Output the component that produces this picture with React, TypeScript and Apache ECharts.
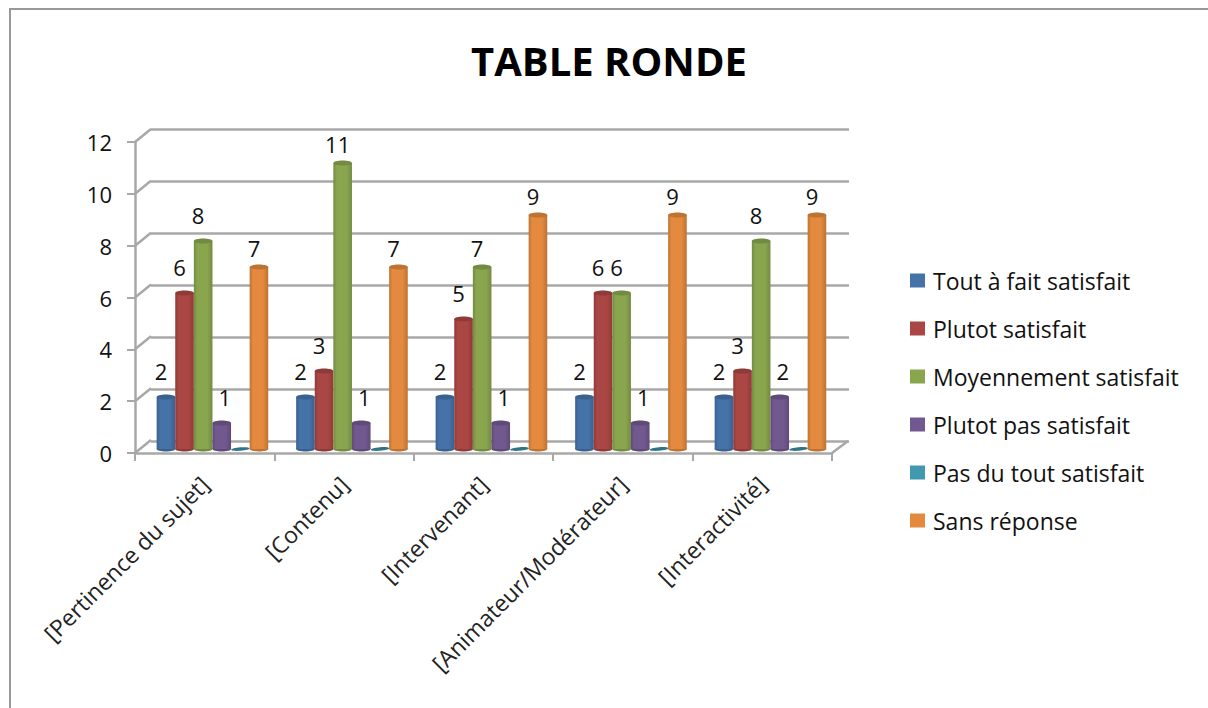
import React, { useEffect, useRef } from "react";
import * as echarts from "echarts";

const titleText = "TABLE RONDE";
const categories = ["[Pertinence du sujet]", "[Contenu]", "[Intervenant]", "[Animateur/Modérateur]", "[Interactivité]"];
const valueTicks = [0, 2, 4, 6, 8, 10, 12];

const toutAFait = [2, 2, 2, 2, 2];
const plutotSatisfait = [6, 3, 5, 6, 3];
const moyennement = [8, 11, 7, 6, 8];
const plutotPas = [1, 1, 1, 1, 2];
const pasDuTout = [0, 0, 0, 0, 0];
const sansReponse = [7, 7, 9, 9, 9];

const seriesNames = ["Tout à fait satisfait", "Plutot satisfait", "Moyennement satisfait", "Plutot pas satisfait", "Pas du tout satisfait", "Sans réponse"];
const seriesValues = [toutAFait, plutotSatisfait, moyennement, plutotPas, pasDuTout, sansReponse];
const seriesColors = ["#4572A7", "#AA4643", "#89A54E", "#71588F", "#4198AF", "#E38A3E"];
const seriesDark = ["#3A6090", "#8E3A38", "#738A42", "#5F4A78", "#2F7487", "#BC7333"];
const labelDx = [-5, -5, -5, 3, 0, -5];

const FONT = "Open Sans";
const AXIS = "#a8a8a8";

function shade(color: string, dark: string) {
  return new echarts.graphic.LinearGradient(0, 0, 1, 0, [
    { offset: 0, color: dark },
    { offset: 0.18, color },
    { offset: 0.72, color },
    { offset: 1, color: dark },
  ]);
}

function cylinder(si: number) {
  return (params: any, api: any) => {
    const idx = api.value(0);
    const v = api.value(1);
    const band = api.size([1, 0])[0];
    const pitch = band / 7.5;
    const base = api.coord([idx, 0]);
    const top = api.coord([idx, v]);
    const cx = base[0] + (si - 2.5) * pitch;
    const rx = pitch / 2;
    const children: any[] = [];
    if (v > 0) {
      children.push(
        { type: "ellipse", shape: { cx, cy: base[1], rx, ry: 2.5 }, style: { fill: seriesDark[si] } },
        { type: "rect", shape: { x: cx - rx, y: top[1], width: pitch, height: base[1] - top[1] }, style: { fill: shade(seriesColors[si], seriesDark[si]) } },
        { type: "ellipse", shape: { cx, cy: top[1], rx, ry: 2.5 }, style: { fill: seriesDark[si] } },
        {
          type: "text",
          style: {
            text: String(v),
            x: cx + labelDx[si],
            y: top[1] + (v >= 7 && v % 2 === 1 ? -19 : -26),
            align: "center",
            verticalAlign: "middle",
            fill: "#111",
            fontSize: 22,
            fontFamily: FONT,
          },
        }
      );
    } else {
      children.push({
        type: "ellipse",
        shape: { cx, cy: base[1], rx, ry: 1.8 },
        originX: cx,
        originY: base[1],
        rotation: 0.08,
        style: { fill: seriesDark[si] },
      });
    }
    return { type: "group", children };
  };
}

function depthLines(params: any, api: any) {
  const v = api.value(1);
  const p = api.coord([0, v]);
  const left = params.coordSys.x;
  const right = left + params.coordSys.width;
  const style = { stroke: AXIS, lineWidth: 2.5, fill: "none" };
  const children: any[] = [{ type: "line", shape: { x1: left, y1: p[1], x2: left + 16, y2: p[1] - 13 }, style }];
  if (v === 0) children.push({ type: "line", shape: { x1: right, y1: p[1], x2: right + 16, y2: p[1] - 12 }, style });
  return { type: "group", children };
}

export default function App() {
  const ref = useRef<HTMLDivElement>(null);
  useEffect(() => {
    const chart = echarts.init(ref.current!, undefined, { renderer: "svg" });
    const bandGrid = { left: 142.7, width: 697.5, top: 137, height: 312 };
    const frontGrid = { left: 135, width: 697, top: 142, height: 311 };
    const backGrid = { left: 151, width: 698, top: 129, height: 312 };
    chart.setOption({
      animation: false,
      backgroundColor: "#fff",
      title: {
        text: titleText,
        left: 604,
        top: 35,
        textAlign: "center",
        textStyle: { fontFamily: FONT, fontSize: 40, fontWeight: "bold", color: "#000" },
      },
      legend: {
        orient: "vertical",
        left: 905,
        top: 264,
        data: seriesNames,
        icon: "rect",
        itemWidth: 15,
        itemHeight: 14,
        itemGap: 25,
        textStyle: { fontFamily: FONT, fontSize: 23, color: "#111", padding: [0, 0, 0, 3] },
      },
      grid: [bandGrid, frontGrid, backGrid],
      xAxis: [
        { type: "category", gridIndex: 0, data: categories, show: false },
        {
          type: "category",
          gridIndex: 1,
          data: categories,
          axisLine: { show: true, lineStyle: { color: AXIS, width: 2.5 } },
          axisTick: { show: true, length: 8, alignWithLabel: false, lineStyle: { color: AXIS, width: 2 } },
          axisLabel: { rotate: 45, margin: 27, interval: 0, fontFamily: FONT, fontSize: 23, color: "#222" },
        },
        { type: "category", gridIndex: 2, data: categories, show: false },
      ],
      yAxis: [
        { type: "value", gridIndex: 0, min: 0, max: 12, interval: 2, show: false, splitLine: { show: false } },
        {
          type: "value",
          gridIndex: 1,
          min: 0,
          max: 12,
          interval: 2,
          axisLine: { show: true, lineStyle: { color: AXIS, width: 2.5 } },
          axisTick: { show: true, length: 8, lineStyle: { color: AXIS, width: 2 } },
          axisLabel: { margin: 23, fontFamily: FONT, fontSize: 22, color: "#111" },
          splitLine: { show: false },
        },
        {
          type: "value",
          gridIndex: 2,
          min: 0,
          max: 12,
          interval: 2,
          axisLine: { show: false },
          axisTick: { show: false },
          axisLabel: { show: false },
          splitLine: { show: true, lineStyle: { color: AXIS, width: 2.5 } },
        },
      ],
      series: [
        {
          type: "custom",
          name: "depth",
          xAxisIndex: 1,
          yAxisIndex: 1,
          clip: false,
          silent: true,
          data: valueTicks.map((t) => [categories[0], t]),
          encode: { x: 0, y: 1 },
          renderItem: depthLines,
        },
        ...seriesNames.map((name, si) => ({
          type: "custom",
          name,
          xAxisIndex: 0,
          yAxisIndex: 0,
          clip: false,
          itemStyle: { color: seriesColors[si] },
          data: seriesValues[si].map((v, i) => [categories[i], v]),
          encode: { x: 0, y: 1 },
          renderItem: cylinder(si),
        })),
      ],
      graphic: [
        { type: "line", shape: { x1: 10, y1: 9, x2: 1208, y2: 9 }, style: { stroke: "#999", lineWidth: 2 } },
        { type: "line", shape: { x1: 10, y1: 8, x2: 10, y2: 708 }, style: { stroke: "#999", lineWidth: 2 } },
      ],
    });
    return () => chart.dispose();
  }, []);
  return <div ref={ref} style={{ position: "fixed", left: 0, top: 0, width: 1208, height: 708 }} />;
}
